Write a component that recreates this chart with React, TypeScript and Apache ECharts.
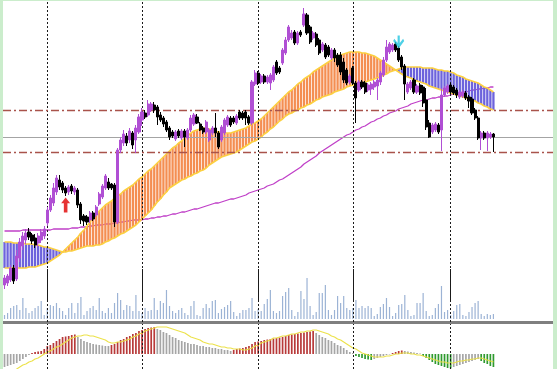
import React, { useEffect, useRef } from 'react';
import * as echarts from 'echarts';

// ---------- data ----------
const BAR_SLOTS = 180; // visible bar slots (chart shift leaves empty slots on the right)
const categories = Array.from({ length: BAR_SLOTS }, (_, i) => `${i}`);

// candles: [open, close, low, high]
const candles = [
  [15,22,11,25],[17,24,14,26],[20,32,18,35],[32,19,16,35],[21,44,19,50],[42,58,38,62],[54,64,50,68],[60,67,56,71],[68,63,60,72],[65,59,56,67],
  [62,55,52,66],[57,64,53,67],[60,68,57,71],[64,71,61,74],[77,90,74,93],[90,102,88,105],[97,112,94,117],[108,122,105,125],[120,113,110,125],[117,110,107,119],
  [112,107,104,114],[108,113,105,115],[114,109,106,116],[108,112,105,114],[110,95,92,112],[96,80,76,98],[84,79,74,86],[83,78,75,85],[80,87,77,89],[87,81,79,89],
  [85,93,83,95],[96,106,94,108],[103,114,101,116],[112,124,110,126],[118,112,110,122],[116,112,110,117],[115,78,73,117],[78,150,76,152],[150,160,147,163],[157,166,154,170],
  [164,157,154,167],[160,169,157,172],[167,155,151,169],[160,172,147,175],[168,183,166,186],[180,188,174,192],[187,183,181,190],[185,196,183,200],[190,196,188,198],[195,190,187,198],
  [193,183,175,195],[185,180,178,188],[182,176,173,184],[178,170,168,180],[172,163,160,174],[168,164,162,170],[161,168,159,170],[169,164,162,171],[162,169,160,171],[169,163,153,171],
  [162,170,160,172],[170,182,168,185],[176,185,174,187],[183,177,176,186],[176,170,169,178],[172,168,166,174],[168,178,166,180],[160,170,158,172],[167,172,165,174],[172,167,163,187],
  [167,153,151,169],[160,173,158,175],[167,180,165,182],[175,183,173,185],[182,175,173,184],[182,178,176,184],[177,184,175,186],[188,182,180,190],[187,182,180,189],[188,182,175,190],
  [183,177,175,185],[177,218,175,220],[216,227,214,230],[227,217,215,229],[218,224,216,226],[224,218,216,226],[218,223,216,225],[217,225,210,227],[220,233,218,235],[238,227,225,240],
  [232,228,226,234],[237,250,235,252],[247,260,245,263],[260,273,258,275],[262,267,260,270],[268,257,255,270],[257,267,255,269],[268,265,263,270],[275,286,273,292],[285,267,265,287],
  [273,258,256,275],[262,267,260,269],[266,255,253,268],[260,247,245,262],[250,256,248,258],[255,243,241,257],[253,245,243,255],[242,250,240,252],[250,242,238,252],[245,235,233,247],
  [245,228,225,248],[238,220,217,242],[230,217,215,232],[218,224,216,226],[232,217,215,234],[217,202,177,219],[210,218,208,220],[218,213,211,220],[217,208,206,219],[210,215,208,217],
  [211,216,205,218],[213,218,210,220],[214,220,200,222],[218,227,215,229],[225,240,223,243],[240,253,238,260],[248,256,246,258],[250,255,248,257],[256,250,248,258],[252,240,238,254],
  [243,233,230,245],[234,216,200,236],[208,216,206,218],[212,218,210,220],[220,208,206,222],[208,214,206,216],[215,207,205,217],[213,197,193,215],[200,173,170,212],[177,163,162,180],
  [168,175,166,177],[170,176,168,178],[175,168,166,177],[170,205,149,212],[205,212,203,214],[208,214,206,216],[215,208,206,217],[213,207,205,215],[210,205,202,212],[203,208,201,210],
  [204,208,202,210],[207,202,200,209],[203,199,192,205],[201,187,185,203],[190,182,180,192],[182,162,160,184],[162,167,150,169],[167,162,160,169],[162,167,149,169],[163,166,161,168],
  [166,163,148,167],
];

const spanA = [
  32,32,32,32,32,32,32,32,33,33,
  33,34,35,36,37,39,41,43,45,48,
  51,54,57,60,63,67,70,74,78,82,
  85,89,92,95,97,99,102,104,106,109,
  111,113,115,118,121,123,126,129,131,134,
  137,140,143,146,149,152,154,157,159,162,
  164,167,169,170,171,172,172,171,170,169,
  168,168,167,167,167,168,169,170,171,172,
  174,176,177,179,181,184,187,190,193,196,
  199,202,205,208,210,213,216,218,221,223,
  225,228,230,232,234,236,238,240,242,244,
  245,246,247,248,248,248,248,247,247,246,
  245,244,242,240,238,236,234,232,230,228,
  226,224,223,222,220,219,218,217,216,214,
  213,212,211,210,209,208,207,206,205,204,
  203,202,201,200,199,197,196,194,193,191,
  190,
];

const spanB = [
  58,58,58,57,57,57,57,56,56,56,
  55,55,54,53,53,52,51,50,49,48,
  48,49,49,50,51,52,53,54,54,54,
  55,55,56,58,59,61,62,64,66,67,
  69,71,73,75,78,81,84,87,90,94,
  98,101,105,108,112,114,116,118,120,121,
  123,124,126,127,129,130,132,135,137,139,
  141,143,144,145,146,147,148,150,152,154,
  156,158,159,161,163,166,168,171,173,176,
  179,181,184,186,187,189,190,192,193,195,
  196,198,200,201,203,204,205,206,208,209,
  210,211,213,214,215,216,216,217,218,219,
  220,221,222,223,225,226,228,229,230,231,
  232,233,233,233,233,233,233,232,232,232,
  232,231,230,230,229,229,228,227,225,224,
  223,221,220,219,218,217,215,213,212,210,
  208,
];

const ma = [
  69,69,69,69,69,69,70,70,70,70,
  70,70,70,70,70,70,71,71,71,71,
  71,71,72,72,72,73,73,73,74,74,
  75,75,75,76,76,76,77,77,78,78,
  79,79,80,80,80,80,81,81,82,82,
  83,83,84,84,85,86,86,87,88,88,
  89,90,91,91,92,93,94,95,96,97,
  97,98,99,100,101,101,102,103,104,105,
  107,108,109,110,111,112,114,115,116,118,
  120,121,123,125,127,129,131,133,136,138,
  140,142,144,147,149,151,153,155,157,159,
  161,163,165,166,168,170,171,173,174,176,
  178,179,181,182,184,185,187,188,189,191,
  192,193,194,196,197,198,199,200,200,201,
  202,202,203,203,204,204,205,206,206,207,
  208,208,209,210,210,211,211,212,212,213,
  213,
];

const volume = [
  4,6,11,13,14,9,21,11,6,8,
  11,13,18,4,11,14,13,16,11,8,
  4,11,16,6,16,22,4,8,11,13,
  9,21,8,6,11,6,16,26,19,9,
  14,13,8,24,8,6,11,8,9,21,
  9,18,16,29,13,8,6,9,11,6,
  4,13,18,4,3,11,15,11,18,19,
  6,10,12,14,18,7,3,6,9,9,
  11,21,8,10,8,15,20,29,8,6,
  8,23,27,31,9,3,7,28,20,41,
  13,4,7,26,26,34,9,4,9,23,
  16,23,11,9,11,19,11,13,11,13,
  11,3,5,12,15,21,12,3,6,14,
  15,24,9,3,4,16,16,26,8,3,
  4,11,15,33,7,9,4,8,14,15,
  4,3,7,12,16,18,5,3,5,4,
  5,
];

const macd = [
  -13,-12,-11,-10,-9,-7,-5,-3,-1,1,
  2,2.5,3,5,8,9,11,13,15,17,
  17.5,18,19,19.5,17,15,13,12,11,10,
  9.5,9,8.5,8,8,9,10,12,14,15,
  17,18,20,21,23,24,25,26,26.5,27,
  25,24,22,21,19,17,16,14,13,12,
  11,10,10,9,8,8,7,7,6,6,
  5,5,4,4,3,4,5,5.5,6,7,
  8,10,12,12.5,13,14,14.5,15,15.5,16,
  16.5,17,18,19,19.5,20,20.5,21,21.5,22,
  22.5,23,21,19,17,16,14,13,11,9,
  8,6,4,2,1,-2,-3,-4,-5,-5.5,
  -6,-5,-4,-3,-2,-1,-0.5,1,2,3,
  3.5,3,2.5,2,1.5,1,0.5,-2,-4,-6,
  -8,-10,-11,-12,-13,-14,-14.5,-13,-12,-11,
  -10,-9,-8,-7,-6,-5,-7,-9,-10,-12,
  -13,
];

const signal = [
  -22,-20,-18,-17,-15,-13,-11,-10,-8,-7,
  -5,-4,-2,0,2,3,5,7,8,10,
  12,14,16,17,18,18,19,19,18,18,
  17,16,15,14,12,11,11,12,12,13,
  14,15,17,18,20,21,23,24,25,26,
  27,27,27,27,26,25,24,23,22,21,
  19,17,16,15,14,12,11,10,10,9,
  8,7,7,6,6,5,5,5,4,4,
  5,6,8,9,11,12,13,14,16,16,
  17,18,18,19,20,20,21,22,22,23,
  23,24,24,23,22,21,20,18,17,15,
  14,12,10,8,6,5,3,1,0,-1,
  -2,-3,-3,-3,-3,-2,-2,-1,0,0,
  1,1,1,0,0,-1,-1,-2,-3,-4,
  -5,-6,-7,-8,-8,-9,-9,-9,-8,-7,
  -7,-6,-6,-5,-5,-4,-4,-5,-6,-7,
  -8,
];

const separatorBars = [14, 45, 83, 114, 146];
const upperLevel = 190;
const lowerLevel = 148;
const lastPrice = 163;
const buySignals = [[20, 95]];
const sellSignals = [[129, 258]];

// ---------- styles ----------
const BULL = '#b04fd4';
const BEAR = '#000000';
const ORANGE = '#f48e52';
const BLUE = '#6d63dc';
const SPAN_LINE = '#fcd040';
const MA_COLOR = '#c040c8';
const LEVEL_COLOR = '#a9534b';
const VOL_COLOR = '#9cb3d5';
const MACD_UP = '#b83a3a';
const MACD_FLAT = '#a6a6a6';
const MACD_DOWN = '#2f9a2f';
const SIGNAL_COLOR = '#ece24a';
const FRAME = '#cbedcc';

const dotted = { type: [2, 2] as any, color: '#1a1a1a', width: 1 };
const sepMarks = separatorBars.map((b) => ({ xAxis: b }));

export default function App() {
  const ref = useRef<HTMLDivElement>(null);

  useEffect(() => {
    if (!ref.current) return;
    const chart = echarts.init(ref.current, null, { renderer: 'svg' });
    const cloudData = spanA.map((a, i) => [i, a, spanB[i]]);

    const option: any = {
      animation: false,
      backgroundColor: '#ffffff',
      grid: [
        { left: 0, right: 0, top: 0, height: 300 },
        { left: 0, right: 0, top: 269, height: 53 },
        { left: 0, right: 0, top: 324, height: 45 },
      ],
      xAxis: [0, 1, 2].map((g) => ({
        type: 'category',
        gridIndex: g,
        data: categories,
        boundaryGap: true,
        axisLine: { show: g === 1, onZero: false, lineStyle: { color: '#7f7f7f', width: 3 } },
        axisTick: { show: false },
        axisLabel: { show: false },
        splitLine: { show: false },
      })),
      yAxis: [
        { type: 'value', gridIndex: 0, min: 0, max: 300, show: false },
        { type: 'value', gridIndex: 1, min: -3, max: 50, show: false },
        { type: 'value', gridIndex: 2, min: -15, max: 30, show: false },
      ],
      series: [
        {
          type: 'line', data: ma, xAxisIndex: 0, yAxisIndex: 0, showSymbol: false, silent: true,
          lineStyle: { color: MA_COLOR, width: 1.3 }, z: 1,
        },
        {
          type: 'custom', xAxisIndex: 0, yAxisIndex: 0, data: cloudData, silent: true, z: 2,
          encode: { x: 0, y: [1, 2] },
          renderItem: (_params: any, api: any) => {
            const i = api.value(0);
            const a = api.value(1);
            const b = api.value(2);
            const pa = api.coord([i, a]);
            const pb = api.coord([i, b]);
            const w = 2.3;
            const top = Math.min(pa[1], pb[1]);
            const h = Math.max(Math.abs(pa[1] - pb[1]), 0.6);
            return {
              type: 'rect',
              shape: { x: pa[0] - w / 2, y: top, width: w, height: h },
              style: { fill: a >= b ? ORANGE : BLUE },
            };
          },
        },
        {
          type: 'line', data: spanA, xAxisIndex: 0, yAxisIndex: 0, showSymbol: false, silent: true,
          lineStyle: { color: SPAN_LINE, width: 1.6 }, z: 3,
        },
        {
          type: 'line', data: spanB, xAxisIndex: 0, yAxisIndex: 0, showSymbol: false, silent: true,
          lineStyle: { color: SPAN_LINE, width: 1.6 }, z: 4,
          markLine: {
            silent: true, symbol: ['none', 'none'], label: { show: false },
            data: [
              ...sepMarks.map((m) => ({ ...m, lineStyle: dotted })),
              { yAxis: upperLevel, lineStyle: { type: [8, 3, 2, 3], color: LEVEL_COLOR, width: 1.4 } },
              { yAxis: lowerLevel, lineStyle: { type: [8, 3, 2, 3], color: LEVEL_COLOR, width: 1.4 } },
              { yAxis: lastPrice, lineStyle: { type: 'solid', color: '#a4a4a4', width: 1 } },
            ],
          },
        },
        {
          type: 'candlestick', data: candles, xAxisIndex: 0, yAxisIndex: 0, barWidth: 2.6, z: 5,
          itemStyle: { color: BULL, color0: BEAR, borderColor: BULL, borderColor0: BEAR, borderWidth: 1 },
        },
        {
          type: 'scatter', data: buySignals, xAxisIndex: 0, yAxisIndex: 0, z: 6, silent: true,
          symbol: 'path://M5,0L10,6L7,6L7,16L3,16L3,6L0,6Z', symbolSize: [9, 15],
          itemStyle: { color: '#e00000' },
        },
        {
          type: 'scatter', data: sellSignals, xAxisIndex: 0, yAxisIndex: 0, z: 6, silent: true,
          symbol: 'path://M4,0L6,0L6,7L9,3L10,5L5,12L0,5L1,3L4,7Z', symbolSize: [11, 13],
          itemStyle: { color: '#22c4e0' },
        },
        {
          type: 'bar', data: volume, xAxisIndex: 1, yAxisIndex: 1, barWidth: 1.2, silent: true,
          itemStyle: { color: VOL_COLOR },
          markLine: {
            silent: true, symbol: ['none', 'none'], label: { show: false },
            data: sepMarks.map((m) => ({ ...m, lineStyle: dotted })),
          },
        },
        {
          type: 'bar', data: macd, xAxisIndex: 2, yAxisIndex: 2, barWidth: 1.7, silent: true,
          itemStyle: {
            color: (p: any) => {
              const i = p.dataIndex;
              const v = macd[i];
              const prev = i > 0 ? macd[i - 1] : v;
              if (v > 0) return v > prev ? MACD_UP : MACD_FLAT;
              return v < prev ? MACD_DOWN : MACD_FLAT;
            },
          },
          markLine: {
            silent: true, symbol: ['none', 'none'], label: { show: false },
            data: sepMarks.map((m) => ({ ...m, lineStyle: dotted })),
          },
        },
        {
          type: 'line', data: signal, xAxisIndex: 2, yAxisIndex: 2, showSymbol: false, silent: true,
          lineStyle: { color: SIGNAL_COLOR, width: 1.1 }, z: 4,
        },
      ],
    };
    chart.setOption(option);
    return () => chart.dispose();
  }, []);

  return (
    <div style={{ position: 'fixed', left: 0, top: 0, width: 557, height: 369, background: FRAME, overflow: 'hidden' }}>
      <div ref={ref} style={{ position: 'absolute', left: 3, top: 0, width: 550, height: 369, background: '#fff' }} />
      <div style={{ position: 'absolute', left: 0, top: 0, width: 557, height: 1, background: FRAME }} />
    </div>
  );
}
